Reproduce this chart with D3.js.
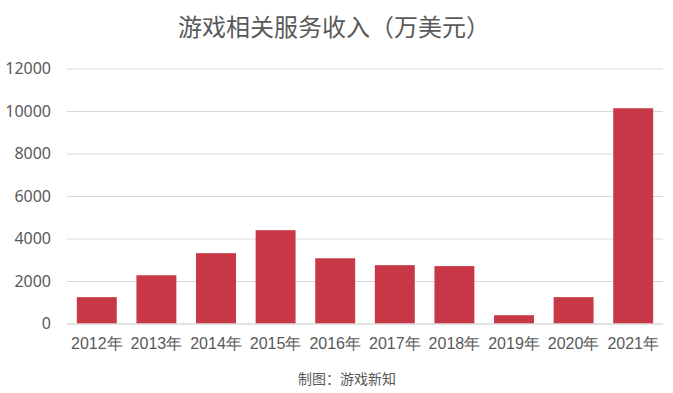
<!DOCTYPE html>
<html><head><meta charset="utf-8">
<script src="https://cdn.jsdelivr.net/npm/d3@7"></script>
<style>body{margin:0;background:#fff;}svg{display:block;font-family:"Noto Sans CJK SC","Noto Sans",sans-serif;}</style>
</head><body><svg id="c" width="673" height="393"></svg>
<script>
const categories = ["2012年","2013年","2014年","2015年","2016年","2017年","2018年","2019年","2020年","2021年"];
const values = [1240, 2270, 3310, 4390, 3070, 2745, 2700, 390, 1240, 10130];
const yTicks = [0, 2000, 4000, 6000, 8000, 10000, 12000];
const title = "游戏相关服务收入（万美元）";
const source = "制图：游戏新知";

const svg = d3.select("#c");
const m = {l: 67, r: 10, t: 68, b: 70};
const x = d3.scaleBand().domain(categories).range([m.l, 663]).paddingInner(0.33).paddingOuter(0.165);
const y = d3.scaleLinear().domain([0, 12000]).range([323.5, 68.5]);

svg.append("text").attr("x", 334).attr("y", 36).attr("text-anchor","middle")
  .attr("font-size", 24).attr("fill", "#595959").text(title);

const ya = svg.append("g").attr("transform", `translate(${m.l},0)`)
  .call(d3.axisLeft(y).tickValues(yTicks).tickSize(-(663 - m.l)).tickFormat(d3.format("d")).tickPadding(16));
ya.select(".domain").remove();
ya.selectAll(".tick line").attr("stroke", "#d9d9d9");
ya.selectAll(".tick text").attr("font-size", 16).attr("fill", "#595959").attr("font-family","Noto Sans, sans-serif");

svg.append("g").selectAll("rect").data(values).join("rect")
  .attr("x", (d,i) => x(categories[i])).attr("width", x.bandwidth())
  .attr("y", d => y(d)).attr("height", d => y(0) - y(d)).attr("fill", "#C83746");

const xa = svg.append("g").attr("transform", `translate(0,${y(0)})`)
  .call(d3.axisBottom(x).tickSize(0).tickPadding(14));
xa.select(".domain").attr("stroke", "#d9d9d9");
xa.selectAll(".tick text").attr("font-size", 16).attr("fill", "#595959");

svg.append("text").attr("x", 347).attr("y", 384).attr("text-anchor","middle")
  .attr("font-size", 14).attr("fill", "#595959").text(source);
</script></body></html>
